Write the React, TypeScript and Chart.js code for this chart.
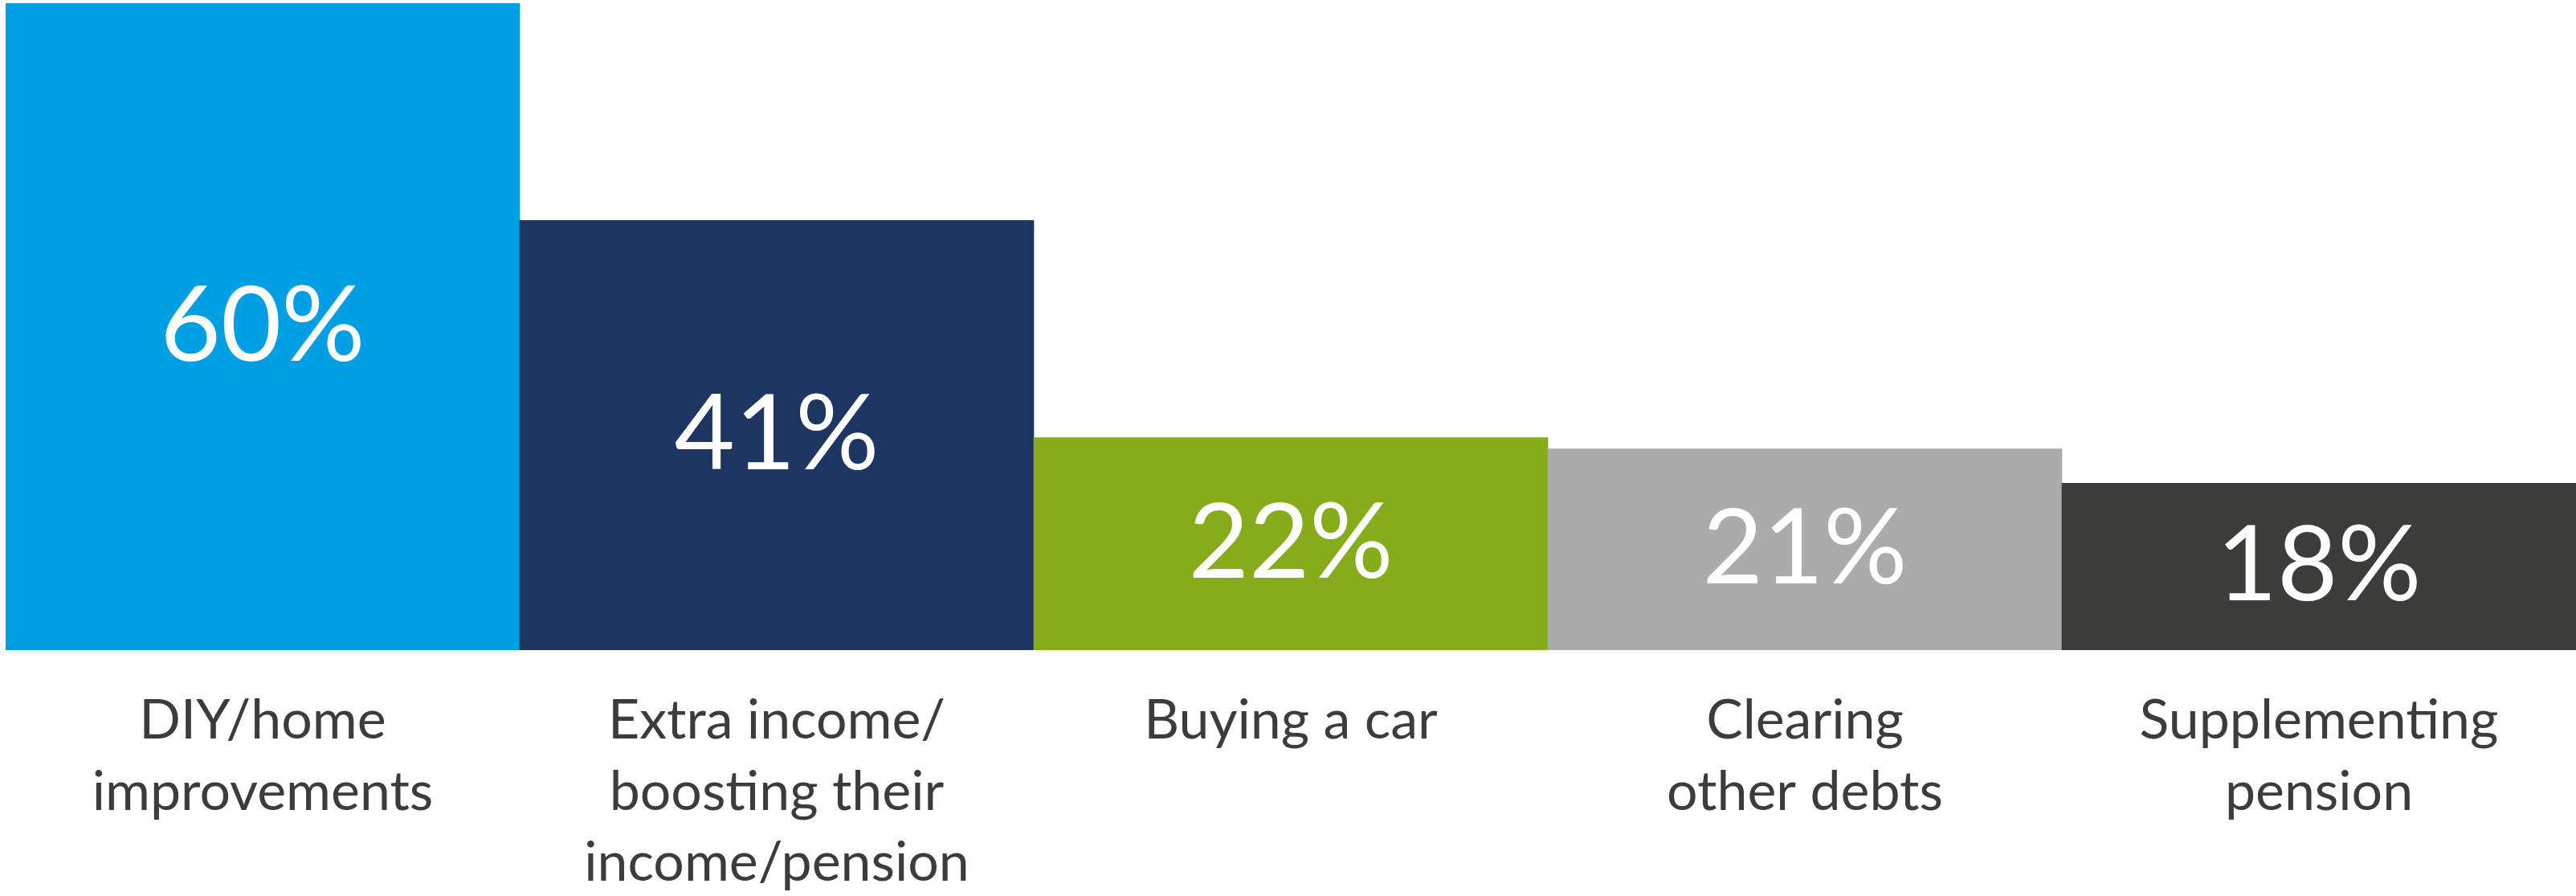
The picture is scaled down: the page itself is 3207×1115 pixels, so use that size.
import React, { useEffect, useRef } from "react";
import { Chart, registerables } from "chart.js";

Chart.register(...registerables);

const categories: string[][] = [
  ["DIY/home", "improvements"],
  ["Extra income/", "boosting their", "income/pension"],
  ["Buying a car"],
  ["Clearing", "other debts"],
  ["Supplementing", "pension"],
];
const values: number[] = [60, 41, 22, 21, 18];
const valueLabels: string[] = ["60%", "41%", "22%", "21%", "18%"];
const barColors: string[] = ["#009FE3", "#1D3661", "#86AC1C", "#ABABAB", "#3C3C3B"];

const FONT = "Lato, 'Open Sans', sans-serif";
const VALUE_FONT_SIZE = 130;

const valueLabelPlugin = {
  id: "valueLabels",
  afterDatasetsDraw(chart: any) {
    const ctx = chart.ctx;
    const meta = chart.getDatasetMeta(0);
    ctx.save();
    ctx.fillStyle = "#FFFFFF";
    ctx.font = `400 ${VALUE_FONT_SIZE}px ${FONT}`;
    ctx.textAlign = "center";
    ctx.textBaseline = "alphabetic";
    meta.data.forEach((bar: any, i: number) => {
      const cy = (bar.y + bar.base) / 2;
      ctx.fillText(valueLabels[i], bar.x, cy + 18);
    });
    ctx.restore();
  },
};

export default function App() {
  const ref = useRef<HTMLCanvasElement>(null);
  useEffect(() => {
    document.body.style.margin = "0";
    if (!ref.current) return;
    const chart = new Chart(ref.current, {
      type: "bar",
      data: {
        labels: categories,
        datasets: [
          {
            data: values,
            backgroundColor: barColors,
            borderWidth: 0,
            categoryPercentage: 1,
            barPercentage: 1,
          },
        ],
      },
      options: {
        responsive: false,
        animation: false,
        devicePixelRatio: 1,
        layout: { padding: { left: 7, top: 4, right: 0, bottom: 0 } },
        plugins: {
          legend: { display: false },
          tooltip: { enabled: false },
        },
        scales: {
          x: {
            grid: { display: false },
            border: { display: false },
            ticks: {
              color: "#3C3C3B",
              font: { family: FONT, size: 68, weight: "400", lineHeight: 1.3 },
              padding: 36,
              maxRotation: 0,
              autoSkip: false,
            },
            afterFit: (scale: any) => {
              scale.height = 306;
            },
          },
          y: {
            display: false,
            min: 3.4,
            max: 60,
          },
        },
      },
      plugins: [valueLabelPlugin],
    });
    return () => chart.destroy();
  }, []);
  return (
    <div style={{ position: "absolute", left: 0, top: 0, width: 3207, height: 1115 }}>
      <canvas ref={ref} width={3207} height={1115} style={{ display: "block" }} />
    </div>
  );
}
